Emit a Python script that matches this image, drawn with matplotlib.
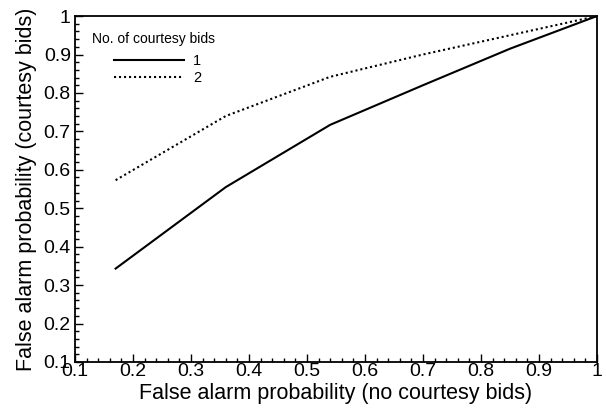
import numpy as np
from matplotlib import pyplot as plt
from matplotlib.ticker import MultipleLocator

plt.rcParams['font.family'] = ['Liberation Sans', 'DejaVu Sans']

# false alarm probability without / with courtesy bids
fa_none = [0.17, 0.36, 0.54, 0.70, 0.85, 1.00]
fa_one = [0.343, 0.555, 0.717, 0.82, 0.915, 1.00]
fa_two = [0.573, 0.740, 0.842, 0.90, 0.950, 1.00]
ticks = [0.1, 0.2, 0.3, 0.4, 0.5, 0.6, 0.7, 0.8, 0.9, 1.0]
tick_labels = ['0.1', '0.2', '0.3', '0.4', '0.5', '0.6', '0.7', '0.8', '0.9', '1']

fig = plt.figure(figsize=(6.06, 4.12), dpi=100)
ax = fig.add_axes([0.1238, 0.1214, 0.8612, 0.8396])

l1, = ax.plot(fa_none, fa_one, 'k-', lw=1.5, label='1')
l2, = ax.plot(fa_none, fa_two, 'k', lw=1.5, linestyle=(0, (1, 1.4)), label='2')

ax.set_xlim(0.1, 1.0)
ax.set_ylim(0.1, 1.0)
ax.set_xticks(ticks)
ax.set_xticklabels(tick_labels)
ax.set_yticks(ticks)
ax.set_yticklabels(tick_labels)
ax.xaxis.set_minor_locator(MultipleLocator(0.02))
ax.yaxis.set_minor_locator(MultipleLocator(0.02))
ax.tick_params(which='both', direction='in', top=False, right=False,
               labelsize=14, width=1.0)
ax.tick_params(axis='x', pad=1)
ax.tick_params(axis='y', pad=3)
ax.tick_params(which='major', length=6)
ax.tick_params(which='minor', length=3)
for s in ax.spines.values():
    s.set_linewidth(1.3)

ax.set_xlabel('False alarm probability (no courtesy bids)', fontsize=15.5, labelpad=2)
ax.set_ylabel('False alarm probability (courtesy bids)', fontsize=15.5, labelpad=5)

ax.text(0.033, 0.935, 'No. of courtesy bids', transform=ax.transAxes,
        fontsize=10, va='center', ha='left')
ax.legend(handles=[l1, l2], loc='upper left', bbox_to_anchor=(0.063, 0.908),
          frameon=False, fontsize=10.5, handlelength=4.85, handletextpad=0.6,
          labelspacing=0.2, borderaxespad=0)

plt.savefig('out.png', dpi=100)
